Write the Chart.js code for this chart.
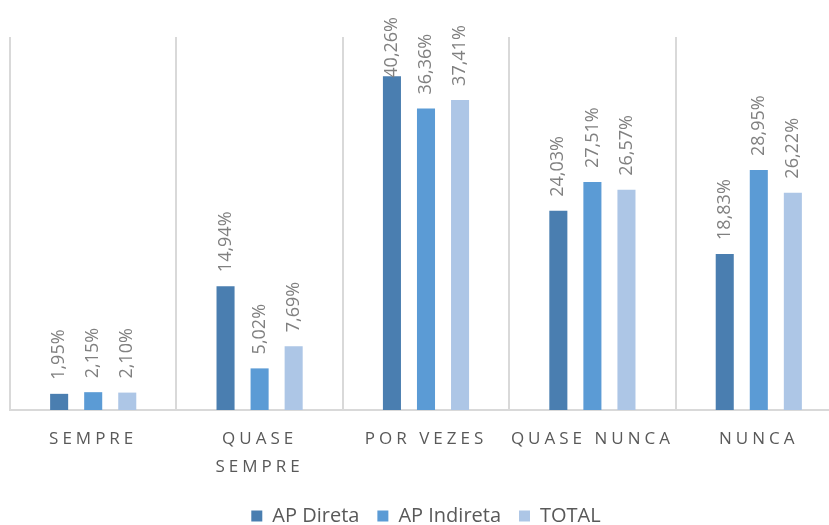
<!DOCTYPE html>
<html lang="pt">
<head>
<meta charset="UTF-8" />
<title>Frequência por tipo de AP</title>
<script src="https://cdn.jsdelivr.net/npm/chart.js"></script>
<style>
  html, body {
    margin: 0;
    padding: 0;
    background: #ffffff;
    overflow: hidden;
  }
  #wrap {
    position: absolute;
    left: 0;
    top: 0;
    width: 852px;
    height: 525px;
  }
</style>
</head>
<body>
<div id="wrap">
  <canvas id="grafico" width="852" height="525"></canvas>
</div>

<script>
  // Categorias e valores (%)
  const categorias = ['SEMPRE', ['QUASE', 'SEMPRE'], 'POR VEZES', 'QUASE NUNCA', 'NUNCA'];
  const apDireta = [1.95, 14.94, 40.26, 24.03, 18.83];
  const apIndireta = [2.15, 5.02, 36.36, 27.51, 28.95];
  const total = [2.10, 7.69, 37.41, 26.57, 26.22];

  const eixoMin = 0;
  const eixoMax = 45;

  const fmt = v => v.toFixed(2).replace('.', ',') + '%';

  // rótulos rotacionados em cima de cada barra
  const rotulos = {
    id: 'rotulos',
    afterDatasetsDraw(chart) {
      const ctx = chart.ctx;
      chart.data.datasets.forEach((ds, i) => {
        const meta = chart.getDatasetMeta(i);
        meta.data.forEach((bar, j) => {
          const txt = fmt(ds.data[j]);
          ctx.save();
          ctx.font = '18px "Open Sans"';
          ctx.fillStyle = '#808080';
          const w = ctx.measureText(txt).width;
          let inicio = bar.y - 14;
          if (inicio - w < 17) inicio = 17 + w; // não deixa sair do topo
          ctx.translate(bar.x, inicio);
          ctx.rotate(-Math.PI / 2);
          ctx.textAlign = 'left';
          ctx.textBaseline = 'middle';
          ctx.fillText(txt, 0, 0);
          ctx.restore();
        });
      });
      // espaçamento das letras só para os rótulos do eixo x (desenhados depois)
      ctx.letterSpacing = '4px';
    },
    afterDraw(chart) {
      chart.ctx.letterSpacing = '0px';
    }
  };

  const ctx = document.getElementById('grafico').getContext('2d');

  new Chart(ctx, {
    type: 'bar',
    data: {
      labels: categorias,
      datasets: [
        { label: 'AP Direta', data: apDireta, backgroundColor: '#4a7eb0' },
        { label: 'AP Indireta', data: apIndireta, backgroundColor: '#5b9bd5' },
        { label: 'TOTAL', data: total, backgroundColor: '#adc6e6' }
      ]
    },
    options: {
      responsive: false,
      animation: false,
      devicePixelRatio: 1,
      categoryPercentage: 0.614,
      barPercentage: 0.53,
      layout: {
        padding: { left: 10, right: 10, top: 37, bottom: -11 }
      },
      plugins: {
        tooltip: { enabled: false },
        legend: {
          position: 'bottom',
          labels: {
            boxWidth: 11,
            boxHeight: 11,
            padding: 18,
            color: '#595959',
            font: { family: 'Open Sans', size: 20 }
          }
        }
      },
      scales: {
        x: {
          grid: {
            offset: true,
            color: '#d9d9d9',
            lineWidth: 2,
            drawTicks: false
          },
          border: { color: '#d9d9d9', width: 2 },
          ticks: {
            z: 1,
            padding: 16,
            color: '#595959',
            maxRotation: 0,
            autoSkip: false,
            font: { family: 'Open Sans', size: 17, lineHeight: 1.6 }
          },
          afterFit(scale) {
            scale.height = 78;
          }
        },
        y: {
          display: false,
          min: eixoMin,
          max: eixoMax
        }
      }
    },
    plugins: [rotulos]
  });
</script>
</body>
</html>
